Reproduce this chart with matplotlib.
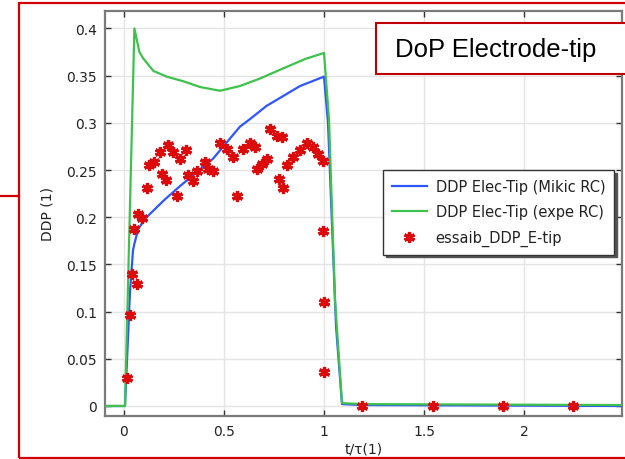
import matplotlib
matplotlib.use("Agg")
import matplotlib.pyplot as plt
from matplotlib.patches import Rectangle
from matplotlib.lines import Line2D

# ---- data ----
t_mikic = [-0.095, 0.005, 0.03, 0.045, 0.052, 0.072, 0.113, 0.2, 0.28, 0.445,
           0.58, 0.63, 0.713, 0.88, 1.0, 1.02, 1.06, 1.09, 1.2, 2.49]
v_mikic = [0.0, 0.0, 0.121, 0.165, 0.172, 0.188, 0.200, 0.218, 0.233, 0.262,
           0.296, 0.304, 0.318, 0.339, 0.349, 0.300, 0.085, 0.002, 0.001, 0.0]

t_expe = [-0.095, 0.005, 0.052, 0.077, 0.097, 0.147, 0.213, 0.297, 0.38, 0.48,
          0.58, 0.68, 0.81, 0.91, 1.0, 1.025, 1.055, 1.09, 1.2, 2.49]
v_expe = [0.0, 0.0, 0.400, 0.375, 0.368, 0.355, 0.349, 0.344, 0.338, 0.334,
          0.339, 0.347, 0.359, 0.368, 0.374, 0.304, 0.113, 0.003, 0.002, 0.001]

t_essai = [0.014, 0.028, 0.038, 0.063, 0.052, 0.072, 0.088, 0.113, 0.127, 0.15,
           0.18, 0.222, 0.188, 0.21, 0.247, 0.28, 0.31, 0.263, 0.322, 0.343,
           0.363, 0.405, 0.422, 0.447, 0.48, 0.513, 0.547, 0.597, 0.63, 0.655,
           0.567, 0.663, 0.688, 0.713, 0.73, 0.763, 0.788, 0.777, 0.797, 0.813,
           0.847, 0.88, 0.917, 0.947, 0.972, 0.993, 0.997, 1.0, 1.0,
           1.188, 1.545, 1.895, 2.247]
v_essai = [0.030, 0.096, 0.140, 0.129, 0.187, 0.203, 0.199, 0.231, 0.255, 0.259,
           0.269, 0.276, 0.246, 0.239, 0.269, 0.262, 0.271, 0.223, 0.245, 0.238,
           0.249, 0.258, 0.251, 0.249, 0.279, 0.272, 0.264, 0.272, 0.279, 0.274,
           0.222, 0.251, 0.256, 0.262, 0.293, 0.286, 0.285, 0.241, 0.231, 0.255,
           0.264, 0.271, 0.279, 0.274, 0.267, 0.260, 0.185, 0.110, 0.036,
           0.0, 0.0, 0.0, 0.0]

xticks = [0, 0.5, 1, 1.5, 2]
xtick_labels = ["0", "0.5", "1", "1.5", "2"]
yticks = [0, 0.05, 0.1, 0.15, 0.2, 0.25, 0.3, 0.35, 0.4]
ytick_labels = ["0", "0.05", "0.1", "0.15", "0.2", "0.25", "0.3", "0.35", "0.4"]

labels = ["DDP Elec-Tip (Mikic RC)", "DDP Elec-Tip (expe RC)", "essaib_DDP_E-tip"]
title_text = "DoP Electrode-tip"

# ---- style ----
W, H = 625, 460
fig = plt.figure(figsize=(W / 100, H / 100), dpi=100)
L, R, T, B = 105, 622, 12, 417
ax = fig.add_axes([L / W, 1 - B / H, (R - L) / W, (B - T) / H])

blue = "#2f55ff"
green = "#3ec24c"
red = "#dc0a0a"

ax.plot(t_mikic, v_mikic, color=blue, lw=1.6, label=labels[0], zorder=3)
ax.plot(t_expe, v_expe, color=green, lw=1.6, label=labels[1], zorder=3)
ast = (6, 2, 0)
ax.plot(t_essai, v_essai, ls="none", marker=ast, ms=8, mew=2.3, color=red,
        label=labels[2], zorder=4)

ax.set_xlim(-0.095, 2.49)
ax.set_ylim(-0.0106, 0.4185)
ax.set_xticks(xticks)
ax.set_xticklabels(xtick_labels)
ax.set_yticks(yticks)
ax.set_yticklabels(ytick_labels)
ax.grid(True, color="#e4e4e4", lw=1.0)
ax.set_axisbelow(True)
ax.tick_params(direction="in", length=4, width=1, color="#333333",
               top=True, right=True, labelsize=10, labelcolor="#222222", pad=6)
for s in ax.spines.values():
    s.set_color("#7a7a7a")
    s.set_linewidth(1.6)

ax.set_xlabel("t/τ(1)", fontsize=10, color="#222222", labelpad=2)
ax.set_ylabel("DDP (1)", fontsize=10, color="#222222", labelpad=8)

leg = ax.legend(loc="upper left", bbox_to_anchor=((383 - L) / (R - L), (B - 171) / (B - T)),
                borderaxespad=0, fontsize=10.5, frameon=True, fancybox=False,
                shadow={"color": "#555555", "alpha": 1.0}, handlelength=2.4,
                handletextpad=0.6, borderpad=0.6, labelspacing=0.72)
leg.get_frame().set_edgecolor("#333333")
leg.get_frame().set_linewidth(1.0)
for txt in leg.get_texts():
    txt.set_color("#222222")

# ---- annotations: red frame, title box, side line ----
def fx(x):
    return x / W

def fy(y):
    return 1 - y / H

frame = Rectangle((fx(19), fy(458.5)), fx(700) - fx(19), fy(4) - fy(458.5),
                  transform=fig.transFigure, fill=False, edgecolor="#d20000",
                  lw=1.6, zorder=10, clip_on=False)
fig.add_artist(frame)
fig.add_artist(Line2D([fx(0), fx(19)], [fy(197), fy(197)], transform=fig.transFigure,
                      color="#d20000", lw=1.6, zorder=10))

tbox = Rectangle((fx(376), fy(75)), fx(700) - fx(376), fy(24) - fy(75),
                 transform=fig.transFigure, facecolor="white", edgecolor="#c00000",
                 lw=1.5, zorder=11, clip_on=False)
fig.add_artist(tbox)
fig.text(fx(395), fy(50), title_text, fontsize=18.5, family="Liberation Sans",
         color="black", va="center", ha="left", zorder=12)

fig.savefig("out.png", dpi=100)
